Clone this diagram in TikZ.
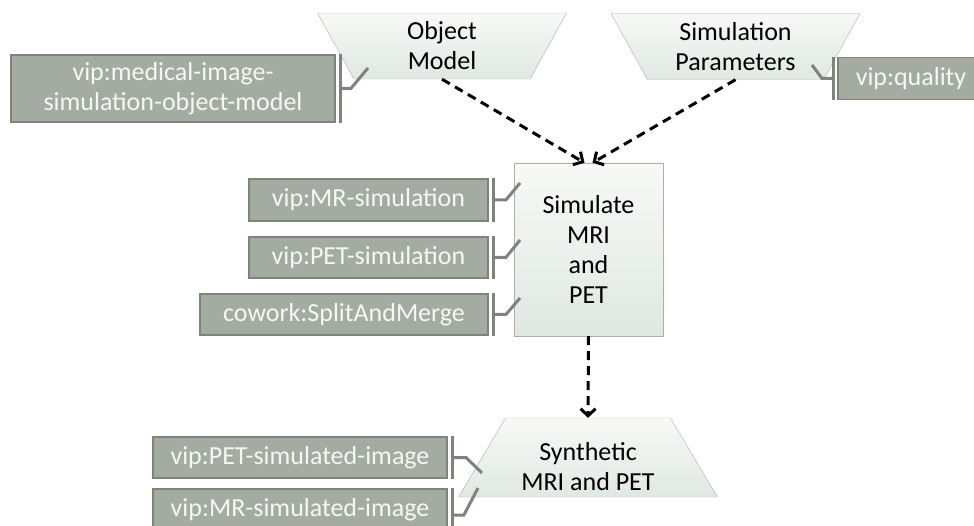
\documentclass[tikz,border=0pt]{standalone}
\usepackage{fontspec}
\setmainfont{Carlito}
\usetikzlibrary{shapes.geometric,arrows.meta,positioning,calc}
\definecolor{tagfill}{RGB}{164,172,162}
\definecolor{tagedge}{RGB}{124,132,123}
\definecolor{tagtext}{RGB}{246,247,244}
\definecolor{shapeedge}{RGB}{168,178,172}
\definecolor{shapetop}{RGB}{247,249,247}
\definecolor{shapebot}{RGB}{224,232,227}

\begin{document}
\begin{tikzpicture}[x=1pt,y=-1pt,
    every node/.style={font=\fontsize{26}{30}\selectfont, align=center},
    tag/.style={draw=tagedge, line width=1.8pt, fill=tagfill, text=tagtext, minimum height=42pt, inner sep=0pt},
    artefact/.style={trapezium, draw=shapeedge, top color=shapetop, bottom color=shapebot, inner sep=0pt,
        trapezium stretches body, trapezium angle=53, minimum width=249pt, minimum height=66pt},
    process/.style={rectangle, draw=shapeedge, top color=shapetop, bottom color=shapebot, inner sep=0pt,
        minimum width=149pt, minimum height=173pt},
    tagline/.style={draw=tagedge, line width=3pt},
    flow/.style={line width=3pt, dash pattern=on 9pt off 6pt, -{Straight Barb[length=7pt,width=15pt]}}]
    \useasboundingbox (0,0) rectangle (974,526);

    % Data and process shapes
    \node[artefact, shape border rotate=180] (objmodel) at (442,46) {Object\\Model};
    \node[artefact, shape border rotate=180] (params) at (735.5,46.5) {Simulation\\Parameters};
    \node[process] (sim) at (588.5,249.5) {Simulate\\MRI\\and\\PET};
    \node[artefact, trapezium angle=55, minimum width=259pt, minimum height=79pt] (synth) at (588,457.5)
        {\rule{0pt}{37pt}Synthetic\\MRI and PET};

    % Annotation tags
    \node[tag, minimum width=324pt, minimum height=67pt] (medtag) at (173,88.5) {vip:medical-image-\\simulation-object-model};
    \node[tag, minimum width=146pt] (qualtag) at (911,78.5) {vip:quality};
    \node[tag, minimum width=239pt] (mrsimtag) at (368.5,200) {vip:MR-simulation};
    \node[tag, minimum width=239pt, minimum height=41pt] (petsimtag) at (368.5,257.5) {vip:PET-simulation};
    \node[tag, minimum width=288pt, minimum height=41pt] (splittag) at (344,314.5) {cowork:SplitAndMerge};
    \node[tag, minimum width=294pt, minimum height=41pt] (petimgtag) at (300,457.5) {vip:PET-simulated-image};
    \node[tag, minimum width=294pt] (mrimgtag) at (300,510) {vip:MR-simulated-image};

    % Hook ends on the shapes
    \coordinate (medhook) at (368,68);
    \coordinate (qualhook) at (812,65);
    \coordinate (mrsimhook) at (520,183);
    \coordinate (petsimhook) at (520,240);
    \coordinate (splithook) at (520,298);
    \coordinate (petimghook) at (482,473);
    \coordinate (mrimghook) at (478,488);

    % Brackets and hooks
    \foreach \t in {medtag,mrsimtag,petsimtag,splittag,petimgtag,mrimgtag}{
        \draw[tagline] ([xshift=5pt]\t.north east) -- ([xshift=5pt]\t.south east);
    }
    \draw[tagline] ([xshift=5pt]medtag.east) -- ++(10,0) -- (medhook);
    \draw[tagline] ([xshift=5pt]mrsimtag.east) -- ++(12,0) -- (mrsimhook);
    \draw[tagline] ([xshift=5pt]petsimtag.east) -- ++(12,0) -- (petsimhook);
    \draw[tagline] ([xshift=5pt]splittag.east) -- ++(12,0) -- (splithook);
    \draw[tagline] ([xshift=5pt]petimgtag.east) -- ++(13,0) -- (petimghook);
    \draw[tagline] ([xshift=5pt,yshift=-5pt]mrimgtag.east) -- ++(11,0) -- (mrimghook);
    \draw[tagline] ([xshift=-4pt]qualtag.north west) -- ([xshift=-4pt]qualtag.south west);
    \draw[tagline] ([xshift=-4pt]qualtag.west) -- ++(-11,0) -- (qualhook);

    % Data flow
    \draw[flow] (objmodel.south) -- ([xshift=-4pt]sim.north);
    \draw[flow] (params.south) -- ([xshift=4pt]sim.north);
    \draw[flow] (sim.south) -- (synth.north);
\end{tikzpicture}
\end{document}
